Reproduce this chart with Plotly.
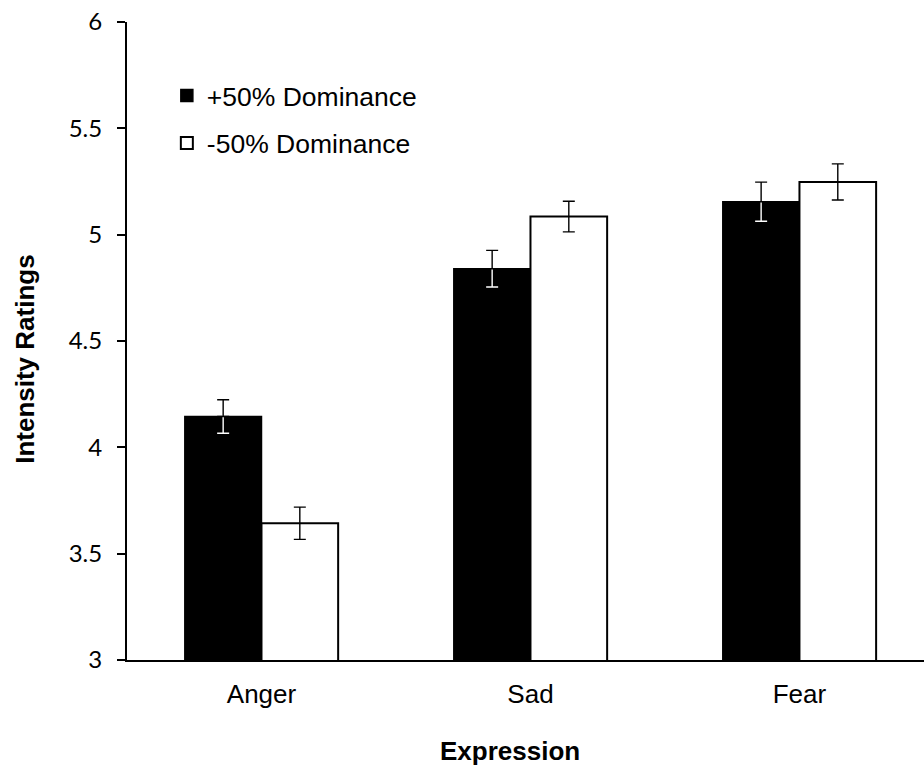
import plotly.graph_objects as go

# Mean intensity ratings per expression, with standard errors
expressions = ["Anger", "Sad", "Fear"]
series_names = ["+50% Dominance", "-50% Dominance"]
high_dom = [4.145, 4.84, 5.155]
high_dom_err = [0.079, 0.086, 0.092]
low_dom = [3.643, 5.085, 5.248]
low_dom_err = [0.076, 0.072, 0.085]
y_ticks = [3, 3.5, 4, 4.5, 5, 5.5, 6]

ARIAL = "Liberation Sans, Arial, sans-serif"
zeros = [0] * len(expressions)

fig = go.Figure()

# +50% dominance: black bars; the error line reads white inside the bar
fig.add_trace(go.Bar(
    x=expressions, y=high_dom, name=series_names[0],
    offsetgroup="high", legendgroup="high",
    marker=dict(color="black", line=dict(color="black", width=1.5)),
    error_y=dict(type="data", array=high_dom_err, symmetric=True,
                 color="white", thickness=1.4, width=6),
))
# upper half of the same error bars, drawn in black above the bar
fig.add_trace(go.Bar(
    x=expressions, y=high_dom, name=series_names[0],
    offsetgroup="high", legendgroup="high", showlegend=False,
    marker=dict(color="rgba(0,0,0,0)", line=dict(width=0)),
    error_y=dict(type="data", array=high_dom_err, arrayminus=zeros,
                 symmetric=False, color="black", thickness=1.4, width=6),
    hoverinfo="skip",
))
# -50% dominance: white bars with black outline
fig.add_trace(go.Bar(
    x=expressions, y=low_dom, name=series_names[1],
    offsetgroup="low", legendgroup="low",
    marker=dict(color="white", line=dict(color="black", width=2)),
    error_y=dict(type="data", array=low_dom_err, symmetric=True,
                 color="black", thickness=1.4, width=6),
))

fig.update_layout(
    width=924, height=769,
    margin=dict(l=127, r=0, t=22, b=109),
    paper_bgcolor="white", plot_bgcolor="white",
    barmode="group", bargap=0.43, bargroupgap=0,
    showlegend=True,
    legend=dict(
        x=0.05, y=0.922, xanchor="left", yanchor="top",
        font=dict(family=ARIAL, size=26.5, color="black"),
        bgcolor="rgba(0,0,0,0)", traceorder="grouped",
        tracegroupgap=10, itemwidth=30,
    ),
    xaxis=dict(
        range=[-0.5, 2.463], showline=True, linecolor="black", linewidth=2,
        ticks="", showgrid=False, zeroline=False,
        tickfont=dict(family=ARIAL, size=26, color="black"),
        ticklabelstandoff=10,
    ),
    yaxis=dict(
        range=[3, 6], tickvals=y_ticks, showline=True, linecolor="black",
        linewidth=2, ticks="outside", ticklen=8, tickwidth=1.5,
        tickcolor="black", showgrid=False, zeroline=False,
        tickfont=dict(family="Lato, sans-serif", size=24, color="black"),
        ticklabelstandoff=10,
    ),
    annotations=[
        dict(text="<b>Expression</b>", xref="paper", yref="paper",
             x=0.48, y=-0.142, xanchor="center", yanchor="middle",
             showarrow=False, font=dict(family=ARIAL, size=26, color="black")),
        dict(text="<b>Intensity Ratings</b>", xref="paper", yref="paper",
             x=-0.128, y=0.472, xanchor="center", yanchor="middle",
             textangle=-90, showarrow=False,
             font=dict(family=ARIAL, size=26, color="black")),
    ],
)

fig.write_html("out.html")
